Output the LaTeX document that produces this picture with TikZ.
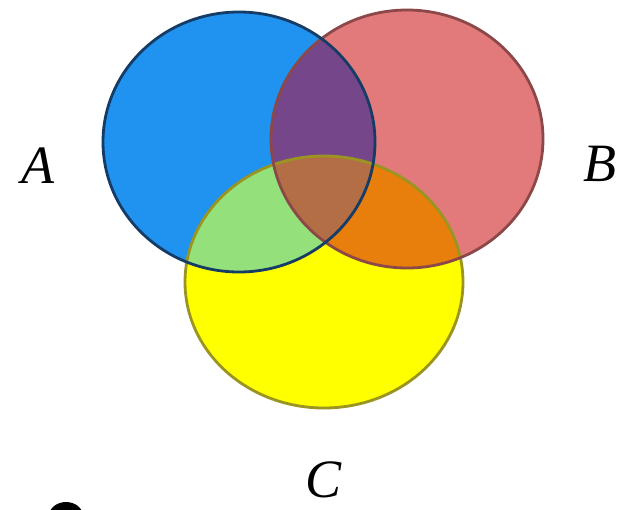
\documentclass[tikz,border=0pt]{standalone}
\usepackage{fontspec}
\setmainfont{Liberation Serif}
\definecolor{cA}{HTML}{2092F0}
\definecolor{cB}{HTML}{E27A7C}
\definecolor{cC}{HTML}{FFFF00}
\definecolor{cAB}{HTML}{76468A}
\definecolor{cAC}{HTML}{94E07A}
\definecolor{cBC}{HTML}{E87E0C}
\definecolor{cABC}{HTML}{B46E46}
\definecolor{lA}{HTML}{153C66}
\definecolor{lB}{HTML}{8C4848}
\definecolor{lC}{HTML}{9A9420}
\begin{document}
\begin{tikzpicture}[x=1pt,y=-1pt,
  setlabel/.style={font=\itshape\fontsize{54}{58}\selectfont, inner sep=0pt, text=black},
  outline/.style={line width=2.8pt}]
\useasboundingbox (0,0) rectangle (629,509);
\fill[white] (0,0) rectangle (629,509);
\def\ellA{(239,142) ellipse [x radius=136pt, y radius=130pt]}
\def\ellB{(407,139) ellipse [x radius=136pt, y radius=129pt]}
\def\ellC{(324,282) ellipse [x radius=139pt, y radius=126pt]}
\fill[cA] \ellA;
\fill[cB] \ellB;
\fill[cC] \ellC;
\begin{scope}\clip \ellA; \fill[cAB] \ellB; \end{scope}
\begin{scope}\clip \ellA; \fill[cAC] \ellC; \end{scope}
\begin{scope}\clip \ellB; \fill[cBC] \ellC; \end{scope}
\begin{scope}\clip \ellA; \clip \ellB; \fill[cABC] \ellC; \end{scope}
\draw[outline, lC] \ellC;
\draw[outline, lB] \ellB;
\draw[outline, lA] \ellA;
\node[setlabel] (labA) at (38,166) {A};
\node[setlabel] (labB) at (600,164) {B};
\node[setlabel] (labC) at (324,480) {C};
\begin{scope}
\clip (0,0) rectangle (629,509);
\fill[black] (66,516) ellipse [x radius=17pt, y radius=14pt];
\end{scope}
\end{tikzpicture}
\end{document}
